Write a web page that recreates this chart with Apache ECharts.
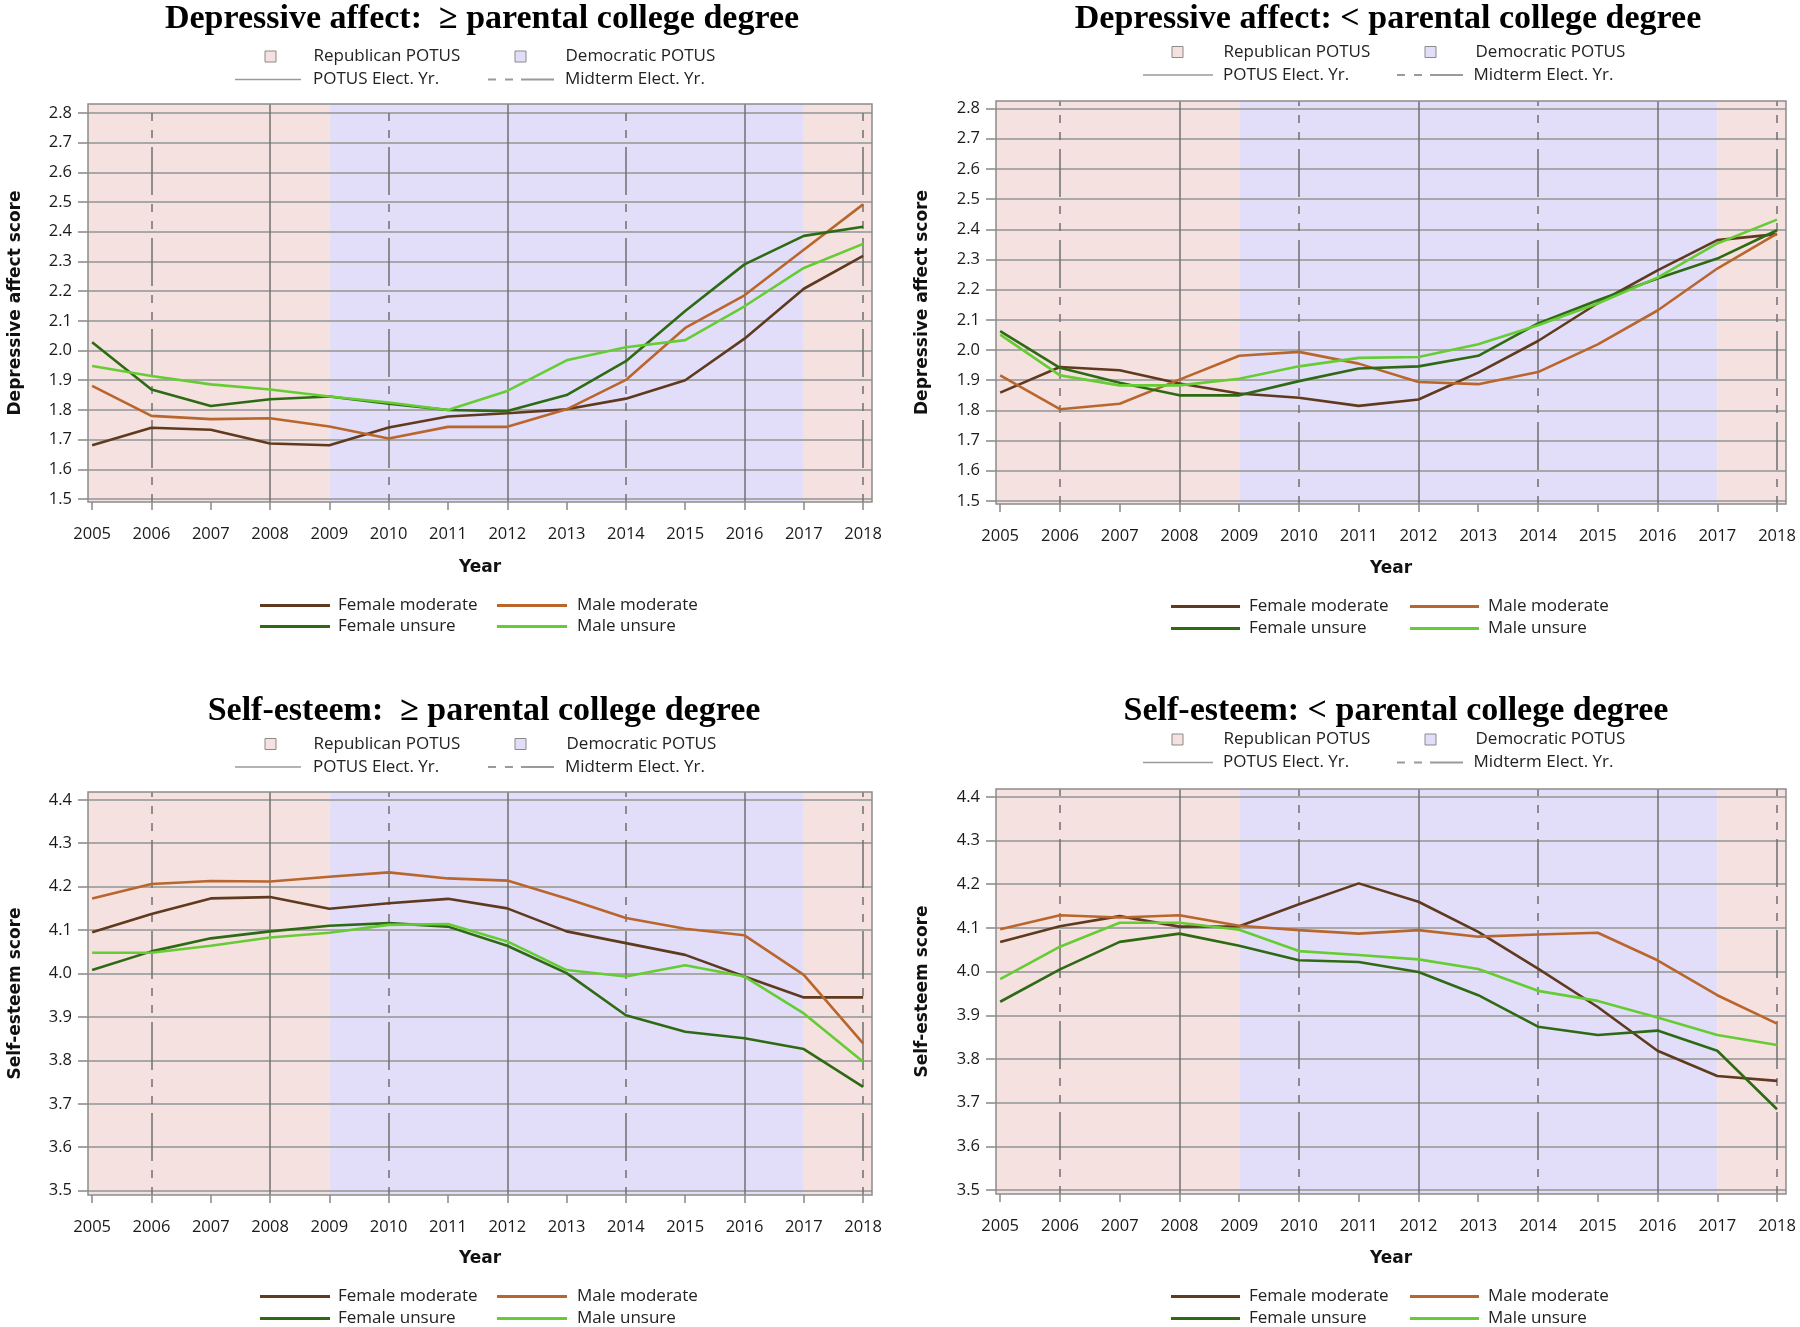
<!DOCTYPE html>
<html><head><meta charset="utf-8">
<script src="https://cdn.jsdelivr.net/npm/echarts@6/dist/echarts.min.js"></script>
<style>html,body{margin:0;padding:0;background:#fff}#c{width:1800px;height:1327px}</style>
</head><body><div id="c"></div>
<script>
// ---------------- data ----------------
const years = [2005,2006,2007,2008,2009,2010,2011,2012,2013,2014,2015,2016,2017,2018];
const depTicks = [1.5,1.6,1.7,1.8,1.9,2.0,2.1,2.2,2.3,2.4,2.5,2.6,2.7,2.8];
const selfTicks = [3.5,3.6,3.7,3.8,3.9,4.0,4.1,4.2,4.3,4.4];
const seriesNames = ['Female moderate','Male moderate','Female unsure','Male unsure'];
const seriesColors = ['#5f3a1e','#b9662d','#2e6a14','#66cc33'];

// Depressive affect, >= parental college degree
const depHighFemaleModerate = [1.681,1.740,1.733,1.687,1.681,1.741,1.778,1.789,1.802,1.838,1.900,2.040,2.208,2.319];
const depHighMaleModerate   = [1.881,1.780,1.769,1.772,1.744,1.704,1.743,1.743,1.802,1.901,2.076,2.186,2.339,2.492];
const depHighFemaleUnsure   = [2.028,1.869,1.813,1.836,1.845,1.821,1.800,1.796,1.850,1.964,2.133,2.290,2.386,2.417];
const depHighMaleUnsure     = [1.948,1.914,1.886,1.869,1.845,1.825,1.800,1.864,1.967,2.011,2.035,2.149,2.278,2.359];
// Depressive affect, < parental college degree
const depLowFemaleModerate = [1.859,1.944,1.933,1.889,1.856,1.842,1.815,1.836,1.925,2.030,2.155,2.264,2.364,2.384];
const depLowMaleModerate   = [1.916,1.804,1.822,1.902,1.981,1.994,1.955,1.894,1.887,1.927,2.019,2.131,2.270,2.386];
const depLowFemaleUnsure   = [2.063,1.941,1.892,1.850,1.850,1.897,1.939,1.946,1.981,2.088,2.165,2.237,2.303,2.397];
const depLowMaleUnsure     = [2.051,1.916,1.883,1.883,1.905,1.946,1.974,1.977,2.019,2.082,2.154,2.240,2.353,2.432];
// Self-esteem, >= parental college degree
const selfHighFemaleModerate = [4.095,4.137,4.173,4.176,4.149,4.162,4.172,4.150,4.097,4.070,4.043,3.993,3.945,3.945];
const selfHighMaleModerate   = [4.173,4.206,4.213,4.212,4.223,4.233,4.219,4.214,4.173,4.128,4.103,4.088,3.997,3.839];
const selfHighFemaleUnsure   = [4.008,4.051,4.081,4.097,4.110,4.116,4.108,4.064,4.001,3.904,3.866,3.851,3.826,3.739];
const selfHighMaleUnsure     = [4.048,4.048,4.064,4.083,4.094,4.112,4.114,4.074,4.008,3.993,4.019,3.993,3.908,3.797];
// Self-esteem, < parental college degree
const selfLowFemaleModerate = [4.068,4.104,4.127,4.103,4.104,4.154,4.202,4.160,4.091,4.007,3.919,3.819,3.761,3.750];
const selfLowMaleModerate   = [4.097,4.129,4.124,4.129,4.105,4.095,4.087,4.095,4.080,4.085,4.089,4.026,3.946,3.881];
const selfLowFemaleUnsure   = [3.931,4.005,4.068,4.087,4.059,4.026,4.022,3.999,3.946,3.874,3.855,3.865,3.819,3.685];
const selfLowMaleUnsure     = [3.983,4.057,4.112,4.112,4.096,4.047,4.038,4.028,4.006,3.956,3.933,3.895,3.855,3.832];

// presidency periods (null = edge of axis) and election years
const republicanSpans = [[null,2009],[2017,null]];
const democraticSpans = [[2009,2017]];
const potusElectionYears = [2008,2012,2016];
const midtermElectionYears = [2006,2010,2014,2018];

// ---------------- styling / layout ----------------
const PINK = '#f5e1e0', BLUE = '#e2defa';
const FONT = 'Open Sans';
const DASH = [8,9,8,9,48,9];
const MIDTERM_ICON = 'path://M0,0h8v2h-8zM17,0h8v2h-8zM33,0h33v2h-33z';

const panels = [
  {title:'Depressive affect:  \u2265 parental college degree', yName:'Depressive affect score',
   ticks:depTicks, values:[depHighFemaleModerate,depHighMaleModerate,depHighFemaleUnsure,depHighMaleUnsure],
   grid:{left:88,top:104,width:784,height:398}, yMin:1.49, yMax:2.83, titleX:482, titleY:19,
   top:{sq:[270,520], tx:[313,565], line:[235,301], dash:[488,554], rows:[57,80]},
   bot:{line:[[260,330],[497,567]], tx:[338,577], rows:[606,627]}, yGap:64, xGap:57},
  {title:'Depressive affect: < parental college degree', yName:'Depressive affect score',
   ticks:depTicks, values:[depLowFemaleModerate,depLowMaleModerate,depLowFemaleUnsure,depLowMaleUnsure],
   grid:{left:996,top:101,width:790,height:403}, yMin:1.49, yMax:2.825, titleX:1388, titleY:19,
   top:{sq:[1177,1430], tx:[1223,1475], line:[1143,1213], dash:[1397,1466], rows:[52.5,75.5]},
   bot:{line:[[1171,1240],[1410,1479]], tx:[1249,1488], rows:[607,629]}, yGap:65, xGap:56},
  {title:'Self-esteem:  \u2265 parental college degree', yName:'Self-esteem score',
   ticks:selfTicks, values:[selfHighFemaleModerate,selfHighMaleModerate,selfHighFemaleUnsure,selfHighMaleUnsure],
   grid:{left:88,top:792,width:784,height:403}, yMin:3.49, yMax:4.418, titleX:484, titleY:711,
   top:{sq:[270,520], tx:[313,566], line:[235,301], dash:[488,556], rows:[744.5,767.5]},
   bot:{line:[[260,330],[497,567]], tx:[338,577], rows:[1297,1319]}, yGap:64, xGap:55},
  {title:'Self-esteem: < parental college degree', yName:'Self-esteem score',
   ticks:selfTicks, values:[selfLowFemaleModerate,selfLowMaleModerate,selfLowFemaleUnsure,selfLowMaleUnsure],
   grid:{left:996,top:789,width:790,height:405}, yMin:3.491, yMax:4.418, titleX:1396, titleY:711,
   top:{sq:[1177,1430], tx:[1223,1475], line:[1143,1213], dash:[1397,1466], rows:[740,763]},
   bot:{line:[[1171,1240],[1410,1479]], tx:[1249,1488], rows:[1297,1319]}, yGap:65, xGap:56}
];
const XMIN = 2004.93, XMAX = 2018.15;

function legendItem(name, iconLeft, iconW, iconH, textX, cy, icon, itemStyle){
  return {show:true, selectedMode:false, left:iconLeft, top:cy-9, padding:0, itemGap:0,
    itemWidth:iconW, itemHeight:iconH,
    textStyle:{fontFamily:FONT, fontSize:17, color:'#222', padding:[0,0,0,Math.max(0,textX-iconLeft-iconW-5)]},
    data:[{name:name, icon:icon, itemStyle:itemStyle}]};
}

const option = {animation:false, backgroundColor:'#fff',
  title:[], grid:[], xAxis:[], yAxis:[], legend:[], series:[]};

panels.forEach((p,i)=>{
  option.title.push({text:p.title, left:p.titleX, top:p.titleY-17, padding:0, textAlign:'center',
    textStyle:{fontFamily:'Liberation Serif', fontWeight:'bold', fontSize:34, color:'#000'}});
  option.grid.push(Object.assign({show:true, z:7, backgroundColor:'transparent', borderColor:'#8c8c8c', borderWidth:1.5}, p.grid));
  option.xAxis.push({type:'value', gridIndex:i, min:XMIN, max:XMAX, z:2,
    name:'Year', nameLocation:'middle', nameGap:p.xGap,
    nameTextStyle:{fontFamily:'DejaVu Sans', fontWeight:'bold', fontSize:17, color:'#111'},
    axisLine:{show:false},
    axisTick:{show:true, length:8, customValues:years, lineStyle:{color:'#888', width:1.5}},
    axisLabel:{customValues:years, margin:24, formatter:v=>String(Math.round(v)), fontFamily:FONT, fontSize:16.5, color:'#1a1a1a'},
    splitLine:{show:false}});
  option.yAxis.push({type:'value', gridIndex:i, min:p.yMin, max:p.yMax, z:2,
    name:p.yName, nameLocation:'middle', nameGap:p.yGap, nameRotate:90,
    nameTextStyle:{fontFamily:'DejaVu Sans', fontWeight:'bold', fontSize:17, color:'#111'},
    axisLine:{show:false},
    axisTick:{show:true, length:10, customValues:p.ticks, lineStyle:{color:'#888', width:1.5}},
    axisLabel:{customValues:p.ticks, margin:16, formatter:v=>v.toFixed(1), fontFamily:FONT, fontSize:16.5, color:'#1a1a1a'},
    splitLine:{show:true, lineStyle:{color:'#a8a8a8', width:2}}});

  const spanData = spans => spans.map(s=>[{xAxis: s[0]===null?XMIN:s[0]},{xAxis: s[1]===null?XMAX:s[1]}]);
  option.series.push({name:'Republican POTUS', type:'line', xAxisIndex:i, yAxisIndex:i, data:[], silent:true,
    itemStyle:{color:PINK}, lineStyle:{color:PINK},
    markArea:{silent:true, z:1, itemStyle:{color:PINK}, data:spanData(republicanSpans)}});
  option.series.push({name:'Democratic POTUS', type:'line', xAxisIndex:i, yAxisIndex:i, data:[], silent:true,
    itemStyle:{color:BLUE}, lineStyle:{color:BLUE},
    markArea:{silent:true, z:1, itemStyle:{color:BLUE}, data:spanData(democraticSpans)}});
  option.series.push({name:'POTUS Elect. Yr.', type:'line', xAxisIndex:i, yAxisIndex:i, data:[], silent:true,
    itemStyle:{color:'#999'}, lineStyle:{color:'#999'},
    markLine:{silent:true, z:5, symbol:['none','none'], label:{show:false},
      lineStyle:{color:'#707070', width:1.5, type:'solid'},
      data:potusElectionYears.map(y=>({xAxis:y}))}});
  option.series.push({name:'Midterm Elect. Yr.', type:'line', xAxisIndex:i, yAxisIndex:i, data:[], silent:true,
    itemStyle:{color:'#999'}, lineStyle:{color:'#999'},
    markLine:{silent:true, z:5, symbol:['none','none'], label:{show:false},
      lineStyle:{color:'#707070', width:1.5, type:DASH},
      data:midtermElectionYears.map(y=>({xAxis:y}))}});
  seriesNames.forEach((n,k)=>{
    option.series.push({name:n, type:'line', xAxisIndex:i, yAxisIndex:i, z:6, symbol:'none',
      data:years.map((y,j)=>[y,p.values[k][j]]),
      itemStyle:{color:seriesColors[k]}, lineStyle:{color:seriesColors[k], width:2.6}});
  });

  // top legends
  const t = p.top;
  option.legend.push(legendItem('Republican POTUS', t.sq[0]-5.5, 11, 11, t.tx[0], t.rows[0], 'rect',
    {color:PINK, borderColor:'#8a8a8a', borderWidth:1}));
  option.legend.push(legendItem('Democratic POTUS', t.sq[1]-5.5, 11, 11, t.tx[1], t.rows[0], 'rect',
    {color:BLUE, borderColor:'#8a8a8a', borderWidth:1}));
  option.legend.push(legendItem('POTUS Elect. Yr.', t.line[0], t.line[1]-t.line[0], 1.6, t.tx[0], t.rows[1], 'rect',
    {color:'#9a9a9a', borderWidth:0}));
  option.legend.push(legendItem('Midterm Elect. Yr.', t.dash[0], t.dash[1]-t.dash[0], 2, t.tx[1], t.rows[1], MIDTERM_ICON,
    {color:'#9a9a9a', borderWidth:0}));
  // bottom legends
  const b = p.bot;
  seriesNames.forEach((n,k)=>{
    const col = k%2, row = Math.floor(k/2);
    option.legend.push(legendItem(n, b.line[col][0], b.line[col][1]-b.line[col][0], 3, b.tx[col], b.rows[row], 'rect',
      {color:seriesColors[k], borderWidth:0}));
  });
});

const chart = echarts.init(document.getElementById('c'), null, {renderer:'canvas'});
chart.setOption(option);
</script>
</body></html>
